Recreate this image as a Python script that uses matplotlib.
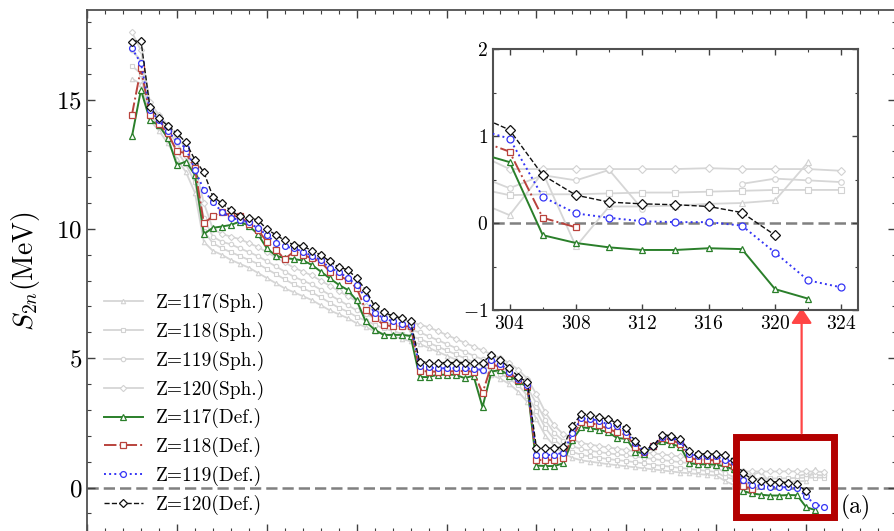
import matplotlib.pyplot as plt
from matplotlib.patches import Rectangle
from matplotlib.ticker import MultipleLocator
import numpy as np

plt.rcParams['font.family'] = 'serif'
plt.rcParams['font.serif'] = ['cmr10']
plt.rcParams['mathtext.fontset'] = 'cm'
plt.rcParams['axes.formatter.use_mathtext'] = True

# neutron number grid (even N only)
N = list(range(170, 326, 2))

# two-neutron separation energies (MeV), spherical solutions
sph117 = [15.8, 15.6, 14.2, 13.8, 13.3, 12.7, 12.2, 11.4, 9.5, 9.15,
          9.0, 8.8, 8.65, 8.5, 8.3, 8.1, 7.9, 7.7, 7.55, 7.4,
          7.25, 7.05, 6.85, 6.7, 6.55, 6.35, 6.2, 6.05, 5.95, 5.85,
          5.75, 5.65, 5.55, 5.4, 5.25, 5.1, 4.95, 4.8, 4.65, 4.5,
          4.35, 4.2, 4.0, 3.7, 3.3, 2.65, 2.0, 1.6, 1.32, 1.15,
          1.05, 1.0, 0.95, 0.9, 0.86, 0.82, 0.78, 0.74, 0.7, 0.66,
          0.62, 0.58, 0.55, 0.52, 0.49, 0.46, 0.25, 0.09, 0.58, -0.27,
          0.19, 0.19, 0.20, 0.22, 0.23, 0.26, 0.70]
sph118 = [16.3, 16.0, 14.4, 14.0, 13.6, 13.0, 12.5, 11.8, 9.9, 9.45,
          9.25, 9.1, 8.95, 8.8, 8.65, 8.45, 8.25, 8.05, 7.85, 7.7,
          7.55, 7.35, 7.15, 6.95, 6.8, 6.6, 6.45, 6.3, 6.15, 6.05,
          5.95, 5.85, 5.75, 5.6, 5.45, 5.3, 5.15, 5.0, 4.85, 4.7,
          4.55, 4.4, 4.2, 3.95, 3.55, 2.95, 2.3, 1.85, 1.55, 1.38,
          1.26, 1.2, 1.15, 1.1, 1.06, 1.02, 0.98, 0.93, 0.88, 0.84,
          0.8, 0.76, 0.72, 0.68, 0.64, 0.6, 0.4, 0.32, 0.33, 0.33,
          0.34, 0.35, 0.35, 0.36, 0.37, 0.38, 0.38, 0.38]
sph119 = [16.9, 16.5, 14.6, 14.2, 13.8, 13.3, 12.8, 12.1, 10.4, 9.7,
          9.5, 9.4, 9.25, 9.1, 8.95, 8.75, 8.55, 8.35, 8.15, 8.0,
          7.85, 7.65, 7.45, 7.25, 7.05, 6.85, 6.7, 6.55, 6.4, 6.3,
          6.2, 6.1, 6.0, 5.85, 5.7, 5.55, 5.4, 5.25, 5.1, 4.95,
          4.8, 4.65, 4.45, 4.2, 3.85, 3.25, 2.6, 2.1, 1.8, 1.6,
          1.48, 1.42, 1.37, 1.32, 1.28, 1.24, 1.2, 1.15, 1.1, 1.06,
          1.02, 0.98, 0.94, 0.9, 0.85, 0.8, 0.55, 0.40, 0.55, 0.49,
          0.61, 0.16, np.nan, np.nan, 0.45, 0.51, 0.49, 0.47]
sph120 = [17.6, 16.9, 14.9, 14.4, 14.0, 13.6, 13.1, 12.4, 11.0, 10.0,
          9.8, 9.7, 9.6, 9.45, 9.3, 9.1, 8.9, 8.7, 8.5, 8.35,
          8.2, 8.0, 7.8, 7.6, 7.4, 7.2, 7.0, 6.85, 6.7, 6.6,
          6.5, 6.4, 6.3, 6.2, 6.05, 5.9, 5.75, 5.6, 5.45, 5.3,
          5.15, 5.0, 4.8, 4.55, 4.2, 3.6, 2.9, 2.4, 2.05, 1.85,
          1.72, 1.66, 1.6, 1.55, 1.5, 1.45, 1.4, 1.36, 1.32, 1.28,
          1.24, 1.2, 1.15, 1.1, 1.05, 1.0, 0.8, 0.62, 0.62, 0.62,
          0.62, 0.62, 0.62, 0.63, 0.62, 0.62, 0.62, 0.60]

# deformed solutions
def117 = [13.57, 15.37, 14.20, 14.00, 13.50, 12.47, 12.60, 12.09, 9.80, 10.04,
          10.09, 10.15, 10.28, 10.12, 9.80, 9.25, 8.96, 8.87, 8.83, 8.78,
          8.61, 8.35, 8.09, 7.84, 7.64, 7.23, 6.42, 6.10, 5.90, 5.90,
          5.90, 5.86, 4.27, 4.27, 4.36, 4.36, 4.36, 4.23, 4.32, 3.11,
          4.48, 4.55, 4.32, 4.10, 3.88, 0.85, 0.83, 0.83, 0.94, 1.84,
          2.33, 2.29, 2.23, 2.13, 1.91, 1.88, 1.39, 1.30, 1.61, 1.78,
          1.68, 1.58, 0.94, 0.90, 0.90, 0.88, 0.81, 0.70, -0.14, -0.23,
          -0.28, -0.31, -0.31, -0.29, -0.30, -0.76, -0.87]
def118 = [14.41, 16.20, 14.40, 14.05, 13.70, 12.99, 12.93, 12.35, 10.22, 10.48,
          10.67, 10.50, 10.48, 10.20, 9.96, 9.51, 9.19, 8.83, 9.12, 9.00,
          8.86, 8.73, 8.35, 8.18, 8.03, 7.71, 6.87, 6.55, 6.29, 6.23,
          6.23, 6.23, 4.52, 4.48, 4.48, 4.48, 4.50, 4.50, 4.48, 3.65,
          4.74, 4.68, 4.42, 4.16, 3.93, 1.07, 1.05, 1.07, 1.14, 1.97,
          2.55, 2.49, 2.42, 2.26, 2.13, 2.03, 1.58, 1.36, 1.61, 1.91,
          1.85, 1.68, 1.14, 1.07, 1.07, 1.05, 0.96, 0.82, 0.06, -0.05]
def119 = [16.98, 16.40, 14.60, 14.19, 13.78, 13.39, 13.12, 12.28, 11.51, 11.02,
          10.67, 10.42, 10.35, 10.25, 10.02, 9.77, 9.45, 9.32, 9.25, 9.12,
          8.96, 8.80, 8.48, 8.35, 8.09, 7.84, 7.32, 6.74, 6.55, 6.42,
          6.33, 6.29, 4.68, 4.64, 4.61, 4.61, 4.61, 4.61, 4.58, 4.55,
          4.94, 4.77, 4.48, 4.20, 3.97, 1.26, 1.26, 1.26, 1.35, 2.10,
          2.68, 2.64, 2.59, 2.42, 2.36, 2.13, 1.71, 1.39, 1.61, 1.97,
          1.94, 1.78, 1.30, 1.22, 1.20, 1.20, 1.08, 0.97, 0.30, 0.11,
          0.06, 0.02, 0.01, 0.01, -0.03, -0.34, -0.66, -0.74]
def120 = [17.24, 17.28, 14.70, 14.28, 13.98, 13.70, 13.34, 12.67, 12.19, 11.25,
          10.99, 10.71, 10.48, 10.41, 10.35, 9.99, 9.77, 9.55, 9.38, 9.34,
          9.16, 9.00, 8.74, 8.52, 8.42, 8.09, 7.64, 7.00, 6.77, 6.64,
          6.55, 6.42, 4.87, 4.83, 4.83, 4.83, 4.83, 4.83, 4.83, 4.83,
          5.13, 4.94, 4.61, 4.29, 4.06, 1.52, 1.52, 1.52, 1.58, 2.38,
          2.85, 2.81, 2.72, 2.64, 2.49, 2.29, 1.78, 1.46, 1.61, 2.04,
          2.00, 1.87, 1.43, 1.30, 1.30, 1.28, 1.24, 1.07, 0.55, 0.32,
          0.24, 0.22, 0.21, 0.19, 0.12, -0.14]

sph_series = [(sph117, '^', 'Z=117(Sph.)'), (sph118, 's', 'Z=118(Sph.)'),
              (sph119, 'o', 'Z=119(Sph.)'), (sph120, 'D', 'Z=120(Sph.)')]
def_series = [(def117, '^', '#2a7f2a', '-', 'Z=117(Def.)'),
              (def118, 's', '#b9433d', '-.', 'Z=118(Def.)'),
              (def119, 'o', '#3535f5', ':', 'Z=119(Def.)'),
              (def120, 'D', '#111111', '--', 'Z=120(Def.)')]


def draw(ax, ms):
    ax.axhline(0, color='#808080', lw=1.8, ls=(0, (4.5, 2)), zorder=1)
    for vals, mk, lab in sph_series:
        ax.plot(N[:len(vals)], vals, color='#d6d6d6', lw=1.3, marker=mk, ms=ms - 1,
                mfc='white', mec='#d2d2d2', mew=0.8, label=lab, zorder=2)
    for vals, mk, col, ls, lab in def_series:
        lw = 1.0 if ls == '--' else 1.4
        ax.plot(N[:len(vals)], vals, color=col, ls=ls, lw=lw, marker=mk, ms=ms,
                mfc='white', mec=col, mew=0.9, label=lab, zorder=3)


def style(ax, lw, size, lmaj, lmin):
    for sp in ax.spines.values():
        sp.set_color('#505050')
        sp.set_linewidth(lw)
    ax.tick_params(which='both', direction='in', top=True, right=True,
                   color='#404040', labelsize=size)
    ax.tick_params(which='major', length=lmaj, width=1.0)
    ax.tick_params(which='minor', length=lmin, width=0.8)


fig = plt.figure(figsize=(8.94, 5.31), dpi=100)

# main panel (extends slightly past the lower and right edges)
ax = fig.add_axes([87 / 894, -1 / 531, 809 / 894, 522 / 531])
draw(ax, 4.2)
ax.set_xlim(160, 340)
ax.set_ylim(-1.72, 18.46)
ax.xaxis.set_major_locator(MultipleLocator(20))
ax.xaxis.set_minor_locator(MultipleLocator(4))
ax.yaxis.set_major_locator(MultipleLocator(5))
ax.yaxis.set_minor_locator(MultipleLocator(1))
style(ax, 1.3, 18, 6, 3)
ax.tick_params(labelbottom=False)
ax.set_ylabel(r'$S_{2n}$(MeV)', fontsize=20)
ax.yaxis.set_label_coords(-0.056, 0.5)

ax.legend(loc='upper left', bbox_to_anchor=(96 / 894, 1 - 285 / 531),
          bbox_transform=fig.transFigure, frameon=False, fontsize=14,
          handlelength=2.0, handletextpad=0.7, labelspacing=0.45,
          borderaxespad=0, borderpad=0.4, numpoints=1)

# zoom box and arrow pointing to the inset
ax.add_patch(Rectangle((304.3, -1.13), 21.8, 3.1, fill=False, ec='#b30000',
                       lw=5, zorder=6, clip_on=False))
ax.annotate('', xy=(319, 6.95), xytext=(319, 2.1),
            arrowprops=dict(arrowstyle='-|>,head_length=0.45,head_width=0.3',
                            color='#ff4545', lw=1.6, mutation_scale=21,
                            shrinkA=0, shrinkB=0), zorder=6)
ax.text(331, -0.78, '(a)', fontsize=17, ha='center', va='center')

# inset: drip-line region
axin = fig.add_axes([493 / 894, 221 / 531, 365 / 894, 261 / 531])
draw(axin, 5)
axin.set_xlim(303, 325)
axin.set_ylim(-1, 2)
axin.xaxis.set_major_locator(MultipleLocator(4))
axin.xaxis.set_minor_locator(MultipleLocator(2))
axin.yaxis.set_major_locator(MultipleLocator(1))
axin.yaxis.set_minor_locator(MultipleLocator(0.5))
style(axin, 1.5, 14, 4, 2.5)

fig.savefig('out.png', dpi=100)
